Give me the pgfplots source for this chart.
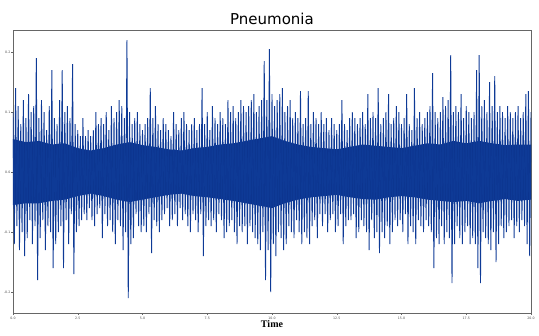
\documentclass[border=0pt]{standalone}
\usepackage{pgfplots}
\usepackage{pgfplotstable}
\pgfplotsset{compat=1.18}
\usepackage{fontspec}
\setmainfont{DejaVu Sans}
\newfontfamily\serifbold{Liberation Serif}
\definecolor{wave}{RGB}{14,58,150}
\definecolor{core}{RGB}{12,52,142}
\pgfplotstableread{
y
0.10
-0.12
0.14
-0.09
0.11
-0.13
0.08
-0.10
0.12
-0.14
0.09
-0.11
0.13
-0.08
0.10
-0.12
0.11
-0.09
0.19
-0.18
0.09
-0.11
0.12
-0.08
0.10
-0.13
0.07
-0.09
0.11
-0.10
0.17
-0.16
0.09
-0.12
0.08
-0.10
0.12
-0.09
0.17
-0.16
0.10
-0.08
0.11
-0.12
0.09
-0.07
0.18
-0.17
0.08
-0.10
0.07
-0.09
0.06
-0.08
0.09
-0.07
0.06
-0.08
0.07
-0.06
0.06
-0.08
0.07
-0.09
0.10
-0.07
0.08
-0.06
0.09
-0.11
0.08
-0.07
0.10
-0.09
0.07
-0.08
0.11
-0.10
0.09
-0.12
0.10
-0.08
0.12
-0.09
0.11
-0.13
0.09
-0.10
0.22
-0.21
0.10
-0.12
0.08
-0.11
0.09
-0.07
0.10
-0.09
0.08
-0.10
0.07
-0.09
0.08
-0.10
0.09
-0.07
0.14
-0.135
0.09
-0.08
0.11
-0.09
0.08
-0.10
0.07
-0.08
0.09
-0.07
0.08
-0.06
0.07
-0.09
0.06
-0.08
0.10
-0.07
0.08
-0.09
0.07
-0.06
0.09
-0.08
0.10
-0.07
0.08
-0.09
0.07
-0.10
0.08
-0.07
0.09
-0.08
0.07
-0.10
0.08
-0.07
0.14
-0.14
0.08
-0.09
0.10
-0.08
0.07
-0.09
0.11
-0.08
0.09
-0.10
0.08
-0.07
0.10
-0.08
0.09
-0.11
0.08
-0.10
0.12
-0.09
0.10
-0.08
0.11
-0.10
0.09
-0.12
0.10
-0.09
0.12
-0.10
0.11
-0.09
0.10
-0.12
0.11
-0.09
0.12
-0.10
0.13
-0.11
0.10
-0.12
0.11
-0.13
0.12
-0.10
0.185
-0.18
0.12
-0.13
0.205
-0.20
0.13
-0.12
0.11
-0.14
0.12
-0.10
0.13
-0.11
0.14
-0.13
0.10
-0.12
0.11
-0.09
0.12
-0.10
0.09
-0.11
0.10
-0.08
0.09
-0.10
0.135
-0.12
0.08
-0.10
0.09
-0.11
0.135
-0.12
0.08
-0.09
0.10
-0.08
0.09
-0.11
0.08
-0.07
0.10
-0.09
0.08
-0.07
0.09
-0.10
0.07
-0.08
0.09
-0.07
0.08
-0.10
0.07
-0.09
0.08
-0.07
0.12
-0.12
0.08
-0.09
0.07
-0.08
0.09
-0.08
0.10
-0.07
0.09
-0.11
0.08
-0.10
0.09
-0.08
0.10
-0.09
0.08
-0.10
0.13
-0.13
0.09
-0.08
0.10
-0.11
0.09
-0.10
0.14
-0.135
0.08
-0.10
0.09
-0.11
0.10
-0.09
0.13
-0.12
0.08
-0.10
0.09
-0.08
0.11
-0.09
0.10
-0.08
0.08
-0.10
0.09
-0.07
0.13
-0.12
0.08
-0.09
0.07
-0.10
0.14
-0.12
0.09
-0.08
0.10
-0.09
0.08
-0.10
0.09
-0.08
0.10
-0.09
0.11
-0.10
0.165
-0.16
0.10
-0.11
0.09
-0.12
0.10
-0.09
0.125
-0.12
0.11
-0.10
0.12
-0.11
0.195
-0.185
0.10
-0.12
0.11
-0.09
0.10
-0.11
0.13
-0.12
0.09
-0.10
0.11
-0.09
0.10
-0.12
0.09
-0.11
0.10
-0.12
0.17
-0.16
0.195
-0.185
0.11
-0.10
0.12
-0.11
0.10
-0.12
0.15
-0.13
0.11
-0.10
0.16
-0.15
0.10
-0.12
0.11
-0.09
0.10
-0.11
0.09
-0.10
0.11
-0.09
0.10
-0.08
0.09
-0.11
0.10
-0.09
0.11
-0.10
0.09
-0.08
0.10
-0.09
0.13
-0.12
0.135
-0.14
0.10
}\wavedata
% dense core of the waveform: upper edge left to right, lower edge right to left
\pgfplotstableread{
t v
0 0.055
0.5 0.050
1 0.052
1.5 0.046
2 0.048
2.5 0.040
3 0.036
3.5 0.040
4 0.046
4.5 0.050
5 0.045
5.5 0.042
6 0.038
6.5 0.036
7 0.040
7.5 0.042
8 0.046
8.5 0.048
9 0.052
9.5 0.056
10 0.060
10.5 0.052
11 0.046
11.5 0.042
12 0.040
12.5 0.038
13 0.042
13.5 0.046
14 0.044
14.5 0.042
15 0.040
15.5 0.044
16 0.048
16.5 0.046
17 0.052
17.5 0.048
18 0.052
18.5 0.048
19 0.045
19.5 0.046
20 0.046
20 -0.046
19.5 -0.048
19 -0.045
18.5 -0.048
18 -0.052
17.5 -0.048
17 -0.050
16.5 -0.048
16 -0.046
15.5 -0.042
15 -0.040
14.5 -0.042
14 -0.046
13.5 -0.045
13 -0.042
12.5 -0.038
12 -0.040
11.5 -0.042
11 -0.046
10.5 -0.052
10 -0.060
9.5 -0.056
9 -0.052
8.5 -0.048
8 -0.045
7.5 -0.042
7 -0.040
6.5 -0.036
6 -0.038
5.5 -0.042
5 -0.046
4.5 -0.050
4 -0.046
3.5 -0.040
3 -0.036
2.5 -0.040
2 -0.046
1.5 -0.048
1 -0.052
0.5 -0.052
0 -0.055
}\coredata
\begin{document}
\begin{tikzpicture}[x=1pt,y=1pt]
\useasboundingbox (-13,-23) rectangle (526,313);
\begin{axis}[
  at={(0,0)}, anchor=south west,
  scale only axis, width=518pt, height=283pt,
  xmin=0, xmax=20, ymin=-0.235, ymax=0.237,
  xtick={0,2.5,5,7.5,10,12.5,15,17.5,20},
  xticklabels={0.0,2.5,5.0,7.5,10.0,12.5,15.0,17.5,20.0},
  ytick={-0.2,-0.1,0,0.1,0.2},
  yticklabels={-0.2,-0.1,0.0,0.1,0.2},
  tick label style={font=\fontsize{3.2}{4}\selectfont, color=black!70},
  tick align=outside, major tick length=2pt,
  tick style={black!60, line width=0.3pt},
  axis line style={black!60, line width=0.5pt},
  xtick pos=bottom, ytick pos=left,
  yticklabel style={inner xsep=0.5pt}, xticklabel shift=-1pt,
  title={Pneumonia},
  title style={font=\fontsize{15}{16}\selectfont, yshift=-4pt},
  xlabel={\serifbold\bfseries Time},
  xlabel style={font=\fontsize{10}{10}\selectfont, yshift=6pt},
  clip=true,
]
\addplot[draw=none, fill=core] table[x=t, y=v] {\coredata} -- cycle;
\addplot[wave, line width=0.9pt, line join=bevel] table[x expr=\coordindex/20, y=y] {\wavedata};
\end{axis}
\end{tikzpicture}
\end{document}
